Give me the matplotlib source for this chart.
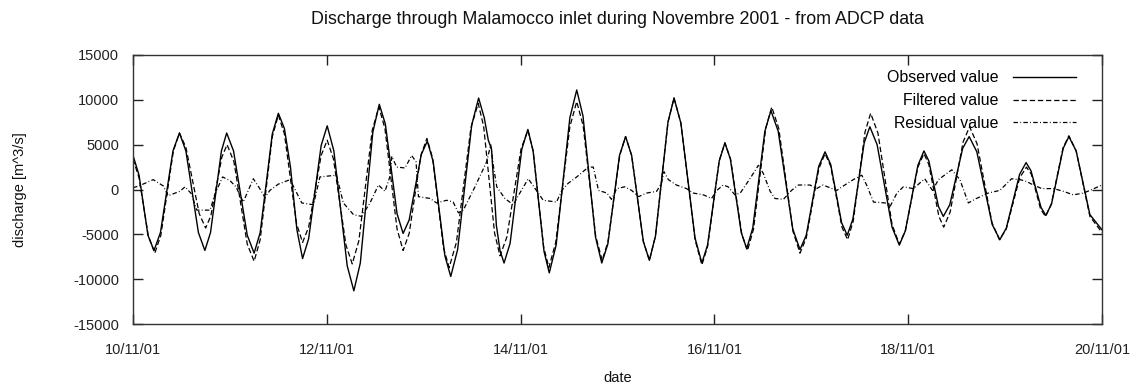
import matplotlib
matplotlib.use("Agg")
import matplotlib.pyplot as plt
import matplotlib.dates as mdates
import pandas as pd

# ---------------- data (hours since 10/11/01 00:00, discharge in m^3/s) ----------------
start_date = "2001-11-10 00:00"
end_date = "2001-11-20 00:00"
y_ticks = [-15000, -10000, -5000, 0, 5000, 10000, 15000]

obs_hours = [0, 1.5, 3.7, 5.2, 6.8, 9.9, 11.5, 13.1, 16.2, 17.8, 19.2, 21.9, 23.2, 24.9, 28.3, 30.0,
             31.5, 34.5, 36.0, 37.5, 39.0, 40.6, 42.0, 43.5, 46.6, 48.1, 49.75, 53.05, 54.7,
             56.3, 59.4, 61.0, 62.5, 65.4, 66.9, 68.4, 71.4, 72.9, 74.35, 77.25, 78.7,
             80.4, 83.9, 85.6, 87.0, 88.0, 88.8, 90.0, 90.9, 91.9, 93.4, 96.3, 97.8,
             99.1, 101.8, 103.1, 104.8, 108.2, 109.9, 111.45, 114.55, 116.1, 117.6, 120.5, 122.0,
             123.5, 126.4, 127.9, 129.4, 132.5, 134.0, 135.7, 139.2, 140.9, 142.3, 145.2, 146.6,
             147.95, 150.65, 152.0, 153.5, 156.5, 158.0, 159.8, 163.4, 165.2, 166.75, 169.85, 171.4,
             172.8, 175.5, 176.9, 178.3, 181.1, 182.5, 184.3, 188.0, 189.8, 191.3, 194.4, 195.9,
             197.1, 199.5, 200.7, 202.3, 205.5, 207.1, 209.0, 212.8, 214.7, 216.3, 219.6, 221.2,
             222.4, 224.9, 226.1, 227.5, 230.4, 231.8, 233.6, 237.0, 240.0]
obs_values = [3800, 1600, -5100, -6800, -4800, 4300, 6300, 4300, -4800, -6800, -4800, 4300, 6300, 4300, -5100, -7100,
              -4800, 6200, 8500, 6800, 2500, -4500, -7700, -5500, 4900, 7100, 4300, -8500, -11300,
              -8200, 6400, 9500, 7300, -2700, -4900, -3400, 3900, 5400, 3100, -7400, -9700,
              -6700, 7200, 10200, 8000, 5500, 4500, -4000, -6800, -8200, -6000, 4500, 6700,
              4300, -6900, -9300, -6200, 8000, 11100, 8200, -5300, -8200, -6100, 3800, 5900,
              3800, -5800, -7900, -5200, 7500, 10200, 7400, -5400, -8200, -6200, 3200, 5200,
              3400, -4800, -6600, -4300, 6500, 8800, 6500, -4400, -6700, -5100, 2600, 4200,
              2800, -3700, -5100, -3300, 5200, 7000, 5000, -4200, -6200, -4600, 2700, 4300,
              3200, -1900, -3000, -1700, 4600, 5900, 4200, -3900, -5600, -4300, 1700, 3000,
              2100, -2000, -2900, -1600, 4600, 5900, 4300, -2800, -4500]

filt_hours = [0, 1.5, 3.8, 5.4, 6.9, 10.0, 11.5, 13.1, 16.4, 18.0, 19.3, 22.0, 23.3, 25.0, 28.3, 30.0,
              31.5, 34.5, 36.0, 37.5, 40.5, 42.0, 43.5, 46.6, 48.1, 49.65, 52.75, 54.3,
              55.95, 59.25, 60.9, 62.4, 65.4, 66.9, 68.4, 71.3, 72.8, 74.2, 76.9, 78.3,
              80.1, 83.7, 85.5, 86.85, 89.55, 90.9, 92.6, 96.1, 97.8, 99.1, 101.7, 103.0,
              104.7, 108.2, 109.9, 111.5, 114.6, 116.2, 117.65, 120.55, 122.0, 123.5, 126.4, 127.9,
              129.4, 132.5, 134.0, 135.7, 139.2, 140.9, 142.3, 145.2, 146.6, 148.0, 150.8, 152.2,
              153.7, 156.7, 158.2, 159.95, 163.45, 165.2, 166.75, 169.85, 171.4, 172.8, 175.6, 177.0,
              178.4, 181.3, 182.7, 184.5, 188.0, 189.8, 191.3, 194.4, 195.9, 197.1, 199.6, 200.8,
              202.4, 205.6, 207.2, 209.05, 212.75, 214.6, 216.3, 219.6, 221.3, 222.5, 224.8, 226.0,
              227.45, 230.35, 231.8, 233.6, 237.0, 240.0]
filt_values = [3400, 1300, -5200, -7100, -5100, 4300, 6300, 4700, -2700, -4300, -2900, 3600, 5000, 3100, -6100, -8000,
               -5600, 5900, 8300, 6200, -3800, -5900, -4200, 3800, 5500, 3400, -6200, -8300,
               -5700, 6600, 9200, 6800, -4400, -6800, -4900, 3800, 5700, 3500, -6500, -8700,
               -5900, 6900, 9600, 7050, -4850, -7400, -5300, 4500, 6600, 4300, -6400, -8700,
               -5900, 7000, 9800, 7100, -5200, -7900, -5800, 3800, 5900, 3800, -5800, -7900,
               -5200, 7500, 10200, 7400, -5600, -8400, -6400, 3200, 5200, 3400, -5000, -6800,
               -4400, 6800, 9200, 6800, -4650, -7100, -5400, 2300, 4000, 2600, -4200, -5600,
               -3500, 6400, 8500, 6300, -3900, -6100, -4600, 2500, 4000, 2800, -3000, -4200,
               -2500, 5300, 7000, 5100, -3700, -5600, -4400, 1300, 2500, 1700, -2200, -3000,
               -1650, 4650, 6000, 4300, -3000, -4800]

res_hours = [0, 1.5, 5.0, 7.5, 8.7, 11.6, 12.9, 14.5, 15.8, 19.1, 20.3, 22.2, 24.0, 25.5, 27.3, 29.8,
             31.4, 32.7, 33.9, 36.0, 38.9, 41.8, 44.7, 46.3, 50.4, 52.1, 54.6, 56.6, 58.7, 60.8,
             62.4, 63.6, 64.1, 65.3, 67.4, 69.0, 70.1, 70.7, 73.6, 75.2, 77.7, 79.3, 80.6, 81.8,
             84.7, 87.6, 88.6, 89.3, 90.1, 92.1, 94.2, 95.8, 97.9, 99.6, 101.6, 104.9, 106.2,
             107.8, 109.9, 112.8, 114.0, 115.3, 117.4, 118.5, 119.8, 121.8, 123.5, 125.2, 127.2,
             129.7, 130.9, 131.5, 132.6, 134.6, 137.1, 138.8, 141.3, 143.3, 144.6, 146.2, 147.4,
             149.1, 150.4, 152.8, 154.9, 156.1, 157.8, 159.0, 161.1, 163.1, 164.8, 167.7, 169.3,
             170.9, 174.3, 176.3, 178.4, 180.5, 181.7, 183.4, 186.3, 187.5, 189.2, 190.8, 193.3,
             196.1, 198.0, 199.5, 202.8, 204.8, 206.9, 208.9, 211.8, 214.7, 217.6, 219.7, 221.3,
             223.0, 225.1, 228.0, 230.4, 232.9, 235.4, 237.0, 240.0]
res_values = [200, 400, 1100, 400, -700, -200, 300, -500, -2300, -2300, -500, 1400, 1000, 300, -1400, 1200,
              100, -900, -100, 600, 1100, -1500, -1700, 1400, 1600, -1500, -2800, -3000, -1500, 500,
              -200, 1400, 3700, 2500, 2400, 3800, 3100, -800, -1000, -1500, -1200, -1400, -2600, -2300,
              300, 3100, 5000, 2500, 300, -1000, -1700, -400, 1200, 100, -1200, -1400, -100,
              700, 1400, 2500, 2500, -100, -400, -1100, 100, 300, -100, -800, -400,
              -200, 700, 2000, 1100, 500, 100, -400, -600, -1000, -100, 500, 300,
              -600, -400, 1200, 2700, 1800, -200, -1000, -1100, -100, 500, 500, 100,
              500, -100, 500, 1100, 1600, 500, -1400, -1500, -1900, -400, 300, 100,
              1200, -100, 1100, 2200, 1100, -1500, -1000, -400, -100, 1200, 1100, 900,
              500, 100, 100, -200, -600, -400, -100, 500]

series_labels = ["Observed value", "Filtered value", "Residual value"]
title_text = "Discharge through Malamocco inlet during Novembre 2001 - from ADCP data"

# ---------------- figure ----------------
plt.rcParams["font.family"] = ["Liberation Sans", "DejaVu Sans"]
plt.rcParams["axes.unicode_minus"] = False
fig = plt.figure(figsize=(11.4, 3.88), dpi=100)
ax = fig.add_axes([133 / 1140, 1 - 324 / 388, 969 / 1140, 269 / 388])

t0 = pd.Timestamp(start_date)
def times(hours):
    return t0 + pd.to_timedelta(hours, unit="h")

ax.plot(times(obs_hours), obs_values, color="black", lw=1.0, linestyle="-", label=series_labels[0])
ax.plot(times(filt_hours), filt_values, color="black", lw=0.9, linestyle=(0, (4.3, 2.2)), label=series_labels[1])
ax.plot(times(res_hours), res_values, color="black", lw=0.9, linestyle=(0, (3.6, 1.8, 0.7, 1.8)), label=series_labels[2])

ax.set_xlim(pd.Timestamp(start_date), pd.Timestamp(end_date))
ax.set_ylim(-15000, 15000)
ax.set_yticks(y_ticks)
ax.xaxis.set_major_locator(mdates.DayLocator(bymonthday=[10, 12, 14, 16, 18, 20]))
ax.xaxis.set_major_formatter(mdates.DateFormatter("%d/%m/%y"))

ax.tick_params(axis="both", direction="in", length=7.5, width=1.0, labelsize=10.5,
               top=True, right=True, colors="#222222")
ax.tick_params(axis="y", pad=10)
ax.tick_params(axis="x", pad=14)
for sp in ax.spines.values():
    sp.set_linewidth(1.0)
    sp.set_color("#333333")

ax.set_title(title_text, fontsize=12.9, pad=22, color="#111111")
ax.set_xlabel("date", fontsize=10.5, labelpad=10, color="#111111")
ax.set_ylabel("discharge [m^3/s]", fontsize=10.5, labelpad=33, color="#111111")

leg = ax.legend(loc="upper right", bbox_to_anchor=(0.9732, 0.9435), frameon=False,
                markerfirst=False, fontsize=11.4, handlelength=4.0, handletextpad=0.9,
                labelspacing=0.5, borderpad=0, borderaxespad=0)

fig.savefig("out.png", dpi=100)
